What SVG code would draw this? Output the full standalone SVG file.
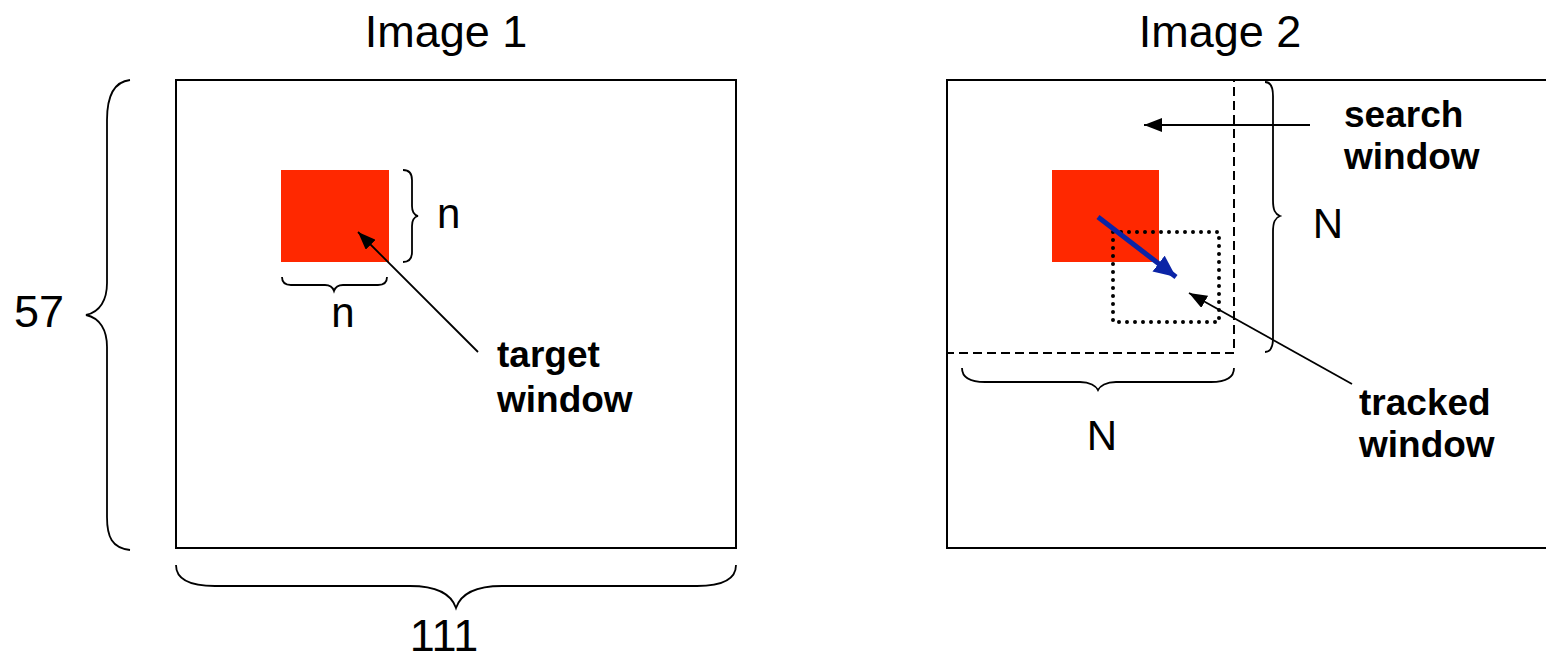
<svg xmlns="http://www.w3.org/2000/svg" width="1546" height="660" viewBox="0 0 1546 660">
<style>
.box{fill:none;stroke:#000;stroke-width:2}
.brace{fill:none;stroke:#000;stroke-width:1.8}
.t{font-family:"Liberation Sans",Arial,sans-serif;fill:#000}
.big{font-size:45px}
.lab{font-size:42px}
.bold{font-size:37px;font-weight:bold}
.red{fill:#ff2800}
.dash{fill:none;stroke:#000;stroke-width:2;stroke-dasharray:9 5}
.dot{fill:none;stroke:#000;stroke-width:4;stroke-linecap:round;stroke-dasharray:0 8}
.conn{stroke:#000;stroke-width:1.8;fill:none}
</style>
<defs>
<marker id="ah" markerUnits="userSpaceOnUse" viewBox="0 0 18 14" refX="18" refY="7" markerWidth="18" markerHeight="14" orient="auto">
<path d="M0,0 L18,7 L0,14 z" fill="#000"/>
</marker>
<marker id="ahb" markerUnits="userSpaceOnUse" viewBox="0 0 22 20" refX="22" refY="10" markerWidth="22" markerHeight="20" orient="auto">
<path d="M0,0 L22,10 L0,20 z" fill="#0b24a6"/>
</marker>
</defs>

<g id="image1">
<text class="t big" x="446" y="47" text-anchor="middle">Image 1</text>
<rect class="box" x="176" y="80" width="560" height="468"/>
</g>
<g id="brace-57">
<path class="brace" d="M130,80 C112,82 107,100 107,120 L107,283 C107,300 100,312 86,315 C100,318 107,330 107,347 L107,517 C107,537 112,548 130,550"/>
<text class="t big" x="39" y="327" text-anchor="middle">57</text>
</g>
<g id="brace-111">
<path class="brace" d="M176,565 C176,580 190,586 215,586 L410,586 C440,586 452,596 456,608 C460,596 472,586 502,586 L697,586 C722,586 736,580 736,565"/>
<text class="t big" x="444" y="651" text-anchor="middle">111</text>
</g>
<g id="target">
<rect class="red" x="281" y="170" width="108" height="92"/>
<path class="brace" d="M403,170 C409,170 412,174 412,180 L412,206 C412,212 414,215 418,216 C414,217 412,220 412,226 L412,252 C412,258 409,262 403,262"/>
<text class="t lab" x="437" y="228">n</text>
<path class="brace" d="M282,277 C282,282 285,285 291,285 L325,285 C330,285 333,288 334,291 C335,288 338,285 343,285 L378,285 C384,285 387,282 387,277"/>
<text class="t lab" x="343" y="327" text-anchor="middle">n</text>
</g>
<g id="target-label">
<text class="t bold" x="497" y="367">target</text>
<text class="t bold" x="497" y="412">window</text>
</g>

<g id="image2">
<text class="t big" x="1220" y="47" text-anchor="middle">Image 2</text>
<rect class="box" x="947" y="80" width="640" height="468"/>
</g>
<g id="search-window">
<path class="dash" d="M947,80 L1234,80 L1234,353 L947,353"/>
<path class="brace" d="M1265,82 C1271,82 1273,88 1273,96 L1273,200 C1273,210 1275,214 1280,216 C1275,218 1273,222 1273,232 L1273,338 C1273,346 1271,352 1265,352"/>
<text class="t lab" x="1328" y="238" text-anchor="middle">N</text>
<path class="brace" d="M962,368 C962,377 970,382 985,382 L1080,382 C1090,382 1096,386 1098,390 C1100,386 1106,382 1116,382 L1211,382 C1226,382 1234,377 1234,368"/>
<text class="t lab" x="1102" y="450" text-anchor="middle">N</text>
</g>
<g id="target2">
<rect class="red" x="1052" y="170" width="107" height="92"/>
</g>
<g id="tracked">
<rect class="dot" x="1113" y="232" width="106" height="90"/>
</g>
<g id="search-label">
<text class="t bold" x="1344" y="127">search</text>
<text class="t bold" x="1344" y="169">window</text>
</g>
<g id="tracked-label">
<text class="t bold" x="1359" y="415">tracked</text>
<text class="t bold" x="1359" y="457">window</text>
</g>

<g id="connectors">
<line class="conn" x1="478" y1="352" x2="358" y2="232" marker-end="url(#ah)"/>
<line class="conn" x1="1310" y1="125" x2="1144" y2="125" marker-end="url(#ah)"/>
<line class="conn" x1="1352" y1="384" x2="1189" y2="293" marker-end="url(#ah)"/>
<line x1="1098" y1="217" x2="1176" y2="277" stroke="#0b24a6" stroke-width="5" marker-end="url(#ahb)"/>
</g>
</svg>
